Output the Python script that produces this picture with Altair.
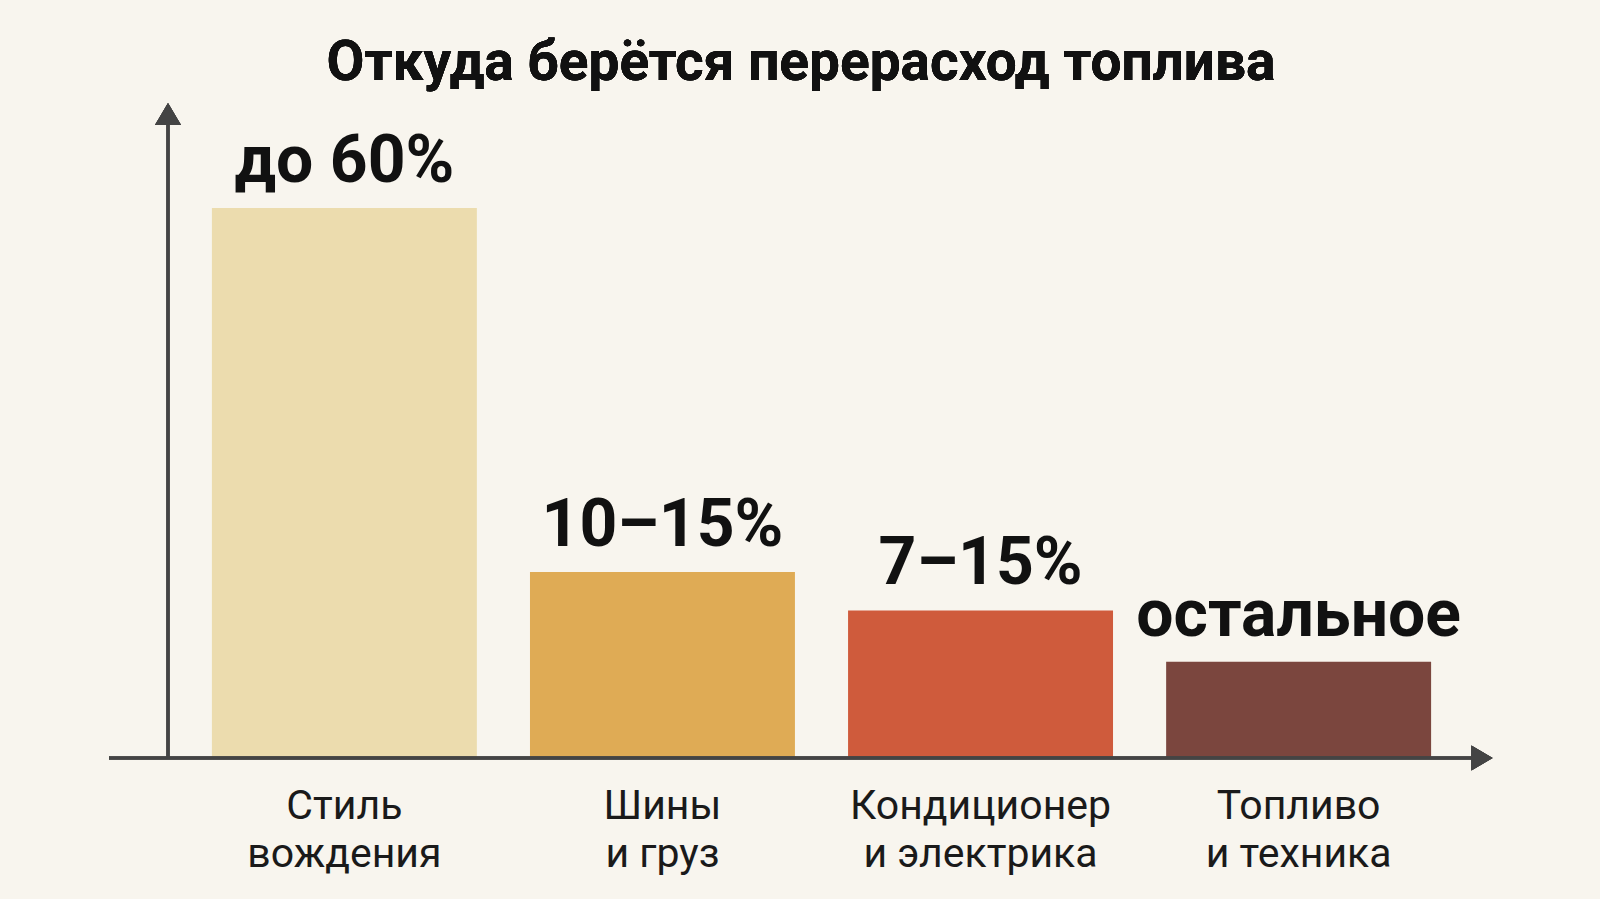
import altair as alt
import pandas as pd

categories = ["Стиль вождения", "Шины и груз", "Кондиционер и электрика", "Топливо и техника"]
line1 = ["Стиль", "Шины", "Кондиционер", "Топливо"]
line2 = ["вождения", "и груз", "и электрика", "и техника"]
values = [60, 20.3, 16.1, 10.5]
value_labels = ["до 60%", "10–15%", "7–15%", "остальное"]
colors = ["#ecdcae", "#dfab55", "#cf5b3c", "#7b463e"]
title_text = "Откуда берётся перерасход топлива"

FONT = "Liberation Sans Narrow, Roboto, sans-serif"

df = pd.DataFrame({
    "cat": categories,
    "l1": line1,
    "l2": line2,
    "value": values,
    "label": value_labels,
})

W, H = 1307, 655
x = alt.X("cat:N", sort=categories, axis=None,
          scale=alt.Scale(paddingInner=0.167, paddingOuter=0.138))
y = alt.Y("value:Q", axis=None, scale=alt.Scale(domain=[0, 71.45], nice=False))

base = alt.Chart(df)

bars = base.mark_bar().encode(
    x=x, y=y,
    color=alt.Color("cat:N", sort=categories, legend=None,
                    scale=alt.Scale(domain=categories, range=colors)),
)

vlabels = base.mark_text(font=FONT, fontWeight="bold", fontSize=66, color="#111111",
                         baseline="alphabetic", dy=-26).encode(
    x=x, y=y, text="label:N")

clabels1 = base.mark_text(font=FONT, fontSize=41, color="#1a1a1a", baseline="alphabetic").encode(
    x=x, y=alt.value(716), text="l1:N")
clabels2 = base.mark_text(font=FONT, fontSize=41, color="#1a1a1a", baseline="alphabetic").encode(
    x=x, y=alt.value(764), text="l2:N")

axis_color = "#444444"
yaxis = base.mark_rule(color=axis_color, strokeWidth=3).encode(
    x=alt.value(0), y=alt.value(12), y2=alt.value(H))
xaxis = base.mark_rule(color=axis_color, strokeWidth=3).encode(
    x=alt.value(-59), x2=alt.value(1310), y=alt.value(H))
uparrow = base.mark_point(shape="M-1,0.85L0,-0.85L1,0.85Z", filled=True, opacity=1,
                          color=axis_color, size=676).encode(
    x=alt.value(0), y=alt.value(11))
rightarrow = base.mark_point(shape="M-0.85,-1L0.85,0L-0.85,1Z", filled=True, opacity=1,
                             color=axis_color, size=625).encode(
    x=alt.value(1314), y=alt.value(H))

title = base.mark_text(font=FONT, fontWeight="bold", fontSize=55, color="#111111",
                       baseline="alphabetic").encode(
    x=alt.value(633), y=alt.value(-23), text=alt.value(title_text))

chart = alt.layer(bars, vlabels, clabels1, clabels2, yaxis, xaxis, uparrow, rightarrow, title).properties(
    width=W, height=H,
    autosize=alt.AutoSizeParams(type="none"),
    padding={"left": 168, "top": 103, "right": 125, "bottom": 141},
    background="#f8f5ee",
).configure_view(stroke=None)

chart.save("out.html", embed_options={"renderer": "svg", "actions": False})
